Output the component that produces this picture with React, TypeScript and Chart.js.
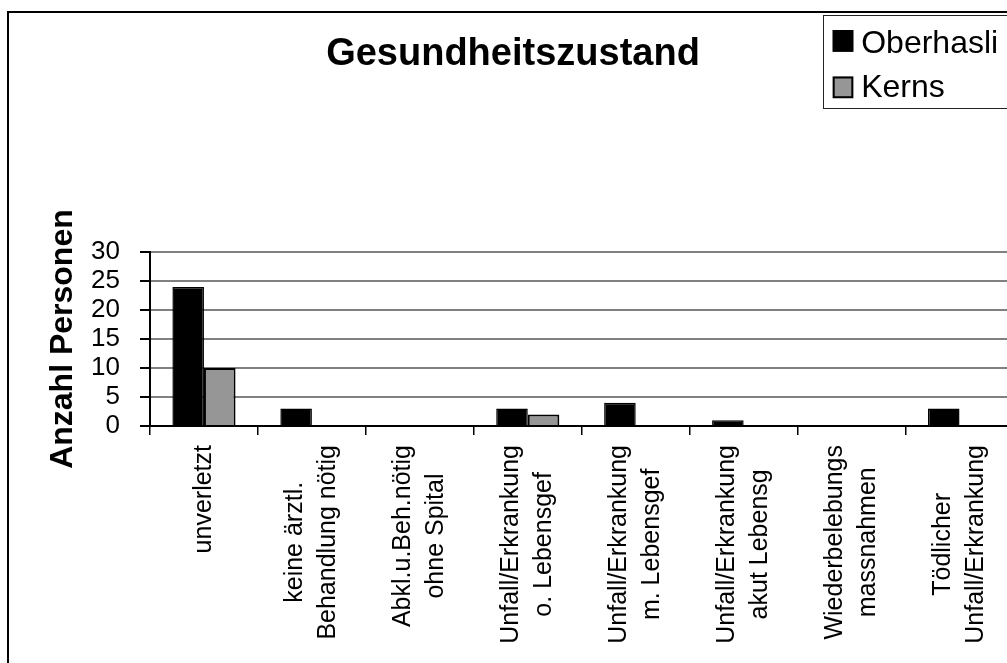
import React, { useEffect, useRef } from "react";
import { Chart, registerables } from "chart.js";

Chart.register(...registerables);

const FONT = "'Liberation Sans', Arial, Helvetica, sans-serif";

const chartTitle = "Gesundheitszustand";
const yAxisTitle = "Anzahl Personen";
const categories: string[][] = [
  ["unverletzt"],
  ["keine ärztl.", "Behandlung nötig"],
  ["Abkl.u.Beh.nötig", "ohne Spital"],
  ["Unfall/Erkrankung", "o. Lebensgef"],
  ["Unfall/Erkrankung", "m. Lebensgef"],
  ["Unfall/Erkrankung", "akut Lebensg"],
  ["Wiederbelebungs", "massnahmen"],
  ["Tödlicher", "Unfall/Erkrankung"],
];
const seriesNames = ["Oberhasli", "Kerns"];
const oberhasli = [24, 3, 0, 3, 4, 1, 0, 3];
const kerns = [10, 0, 0, 2, 0, 0, 0, 0];
const seriesColors = ["#000000", "#969696"];
const yMin = 0;
const yMax = 30;
const yStep = 5;

const categoryLabelPlugin = {
  id: "categoryLabels",
  afterDraw(chart: any) {
    const xScale = chart.scales.x;
    const ctx = chart.ctx;
    ctx.save();
    ctx.font = `25px ${FONT}`;
    ctx.fillStyle = "#000";
    ctx.textAlign = "center";
    ctx.textBaseline = "middle";
    const top = chart.chartArea.bottom + 19;
    (chart.data.labels as any[]).forEach((lab, i) => {
      const lines: string[] = Array.isArray(lab) ? lab : [String(lab)];
      const x = xScale.getPixelForValue(i);
      const L = Math.max(...lines.map((l) => ctx.measureText(l).width));
      ctx.save();
      ctx.translate(x, top);
      ctx.rotate(-Math.PI / 2);
      lines.forEach((line, j) => {
        ctx.fillText(line, -L / 2, (j - (lines.length - 1) / 2) * 33);
      });
      ctx.restore();
    });
    ctx.restore();
  },
};

const boxLegendPlugin = {
  id: "boxLegend",
  afterDraw(chart: any) {
    const ctx = chart.ctx;
    ctx.save();
    ctx.strokeStyle = "#222";
    ctx.lineWidth = 1;
    ctx.strokeRect(814.5, 2.5, 400, 93);
    const squareY = [17, 63.5];
    const textY = [40, 84];
    chart.data.datasets.forEach((ds: any, i: number) => {
      ctx.fillStyle = ds.backgroundColor;
      ctx.fillRect(823.7, squareY[i], 20.6, 21.7);
      ctx.strokeStyle = "#000";
      ctx.lineWidth = 2;
      ctx.strokeRect(824.7, squareY[i] + 1, 18.6, 19.7);
      ctx.fillStyle = "#000";
      ctx.font = `32px ${FONT}`;
      ctx.textAlign = "left";
      ctx.textBaseline = "alphabetic";
      ctx.fillText(ds.label, 852.2, textY[i]);
    });
    ctx.restore();
  },
};

export default function App() {
  const ref = useRef<HTMLCanvasElement | null>(null);

  useEffect(() => {
    if (!ref.current) return;
    const chart = new Chart(ref.current, {
      type: "bar",
      data: {
        labels: categories,
        datasets: [
          {
            label: seriesNames[0],
            data: oberhasli,
            backgroundColor: seriesColors[0],
            borderColor: "#000",
            borderWidth: 1.5,
            categoryPercentage: 0.585,
            barPercentage: 1,
          },
          {
            label: seriesNames[1],
            data: kerns,
            backgroundColor: seriesColors[1],
            borderColor: "#000",
            borderWidth: 2,
            categoryPercentage: 0.585,
            barPercentage: 1,
          },
        ],
      },
      options: {
        responsive: false,
        animation: false,
        layout: { padding: { left: 3.5, right: 25.5, top: 0, bottom: 0 } },
        plugins: {
          legend: { display: false },
          tooltip: { enabled: false },
          title: {
            display: true,
            text: chartTitle,
            color: "#000",
            font: { family: FONT, size: 38, weight: "bold", lineHeight: 1.2 },
            padding: { top: 18.5, bottom: 175 },
          },
        },
        scales: {
          x: {
            grid: {
              display: true,
              drawOnChartArea: false,
              drawTicks: true,
              tickLength: 9,
              color: "#000",
              lineWidth: 1.5,
              offset: true,
            },
            border: { display: true, color: "#000", width: 2 },
            ticks: { display: false },
            afterFit: (s: any) => {
              s.height = 230;
            },
          },
          y: {
            min: yMin,
            max: yMax,
            ticks: {
              stepSize: yStep,
              autoSkip: false,
              color: "#000",
              font: { family: FONT, size: 26 },
              padding: 20,
            },
            grid: {
              color: (c: any) => (c.tick && c.tick.value === 0 ? "#000" : "#808080"),
              lineWidth: 2,
              tickColor: "#000",
              tickLength: 10,
              drawTicks: true,
            },
            border: { display: true, color: "#000", width: 2 },
            title: {
              display: true,
              text: yAxisTitle,
              color: "#000",
              font: { family: FONT, size: 32, weight: "bold", lineHeight: 1.2 },
              padding: { top: 31.4, bottom: 11 },
            },
            afterFit: (s: any) => {
              s.width = 137.5;
            },
          },
        },
      } as any,
      plugins: [categoryLabelPlugin, boxLegendPlugin],
    });
    return () => chart.destroy();
  }, []);

  return (
    <div
      style={{
        position: "fixed",
        left: 0,
        top: 0,
        width: 1007,
        height: 663,
        overflow: "hidden",
        background: "#fff",
      }}
    >
      <div
        style={{
          position: "absolute",
          left: 7,
          top: 11,
          width: 1100,
          height: 800,
          border: "2px solid #000",
        }}
      >
        <canvas ref={ref} width={1030} height={643} style={{ display: "block" }} />
      </div>
    </div>
  );
}
